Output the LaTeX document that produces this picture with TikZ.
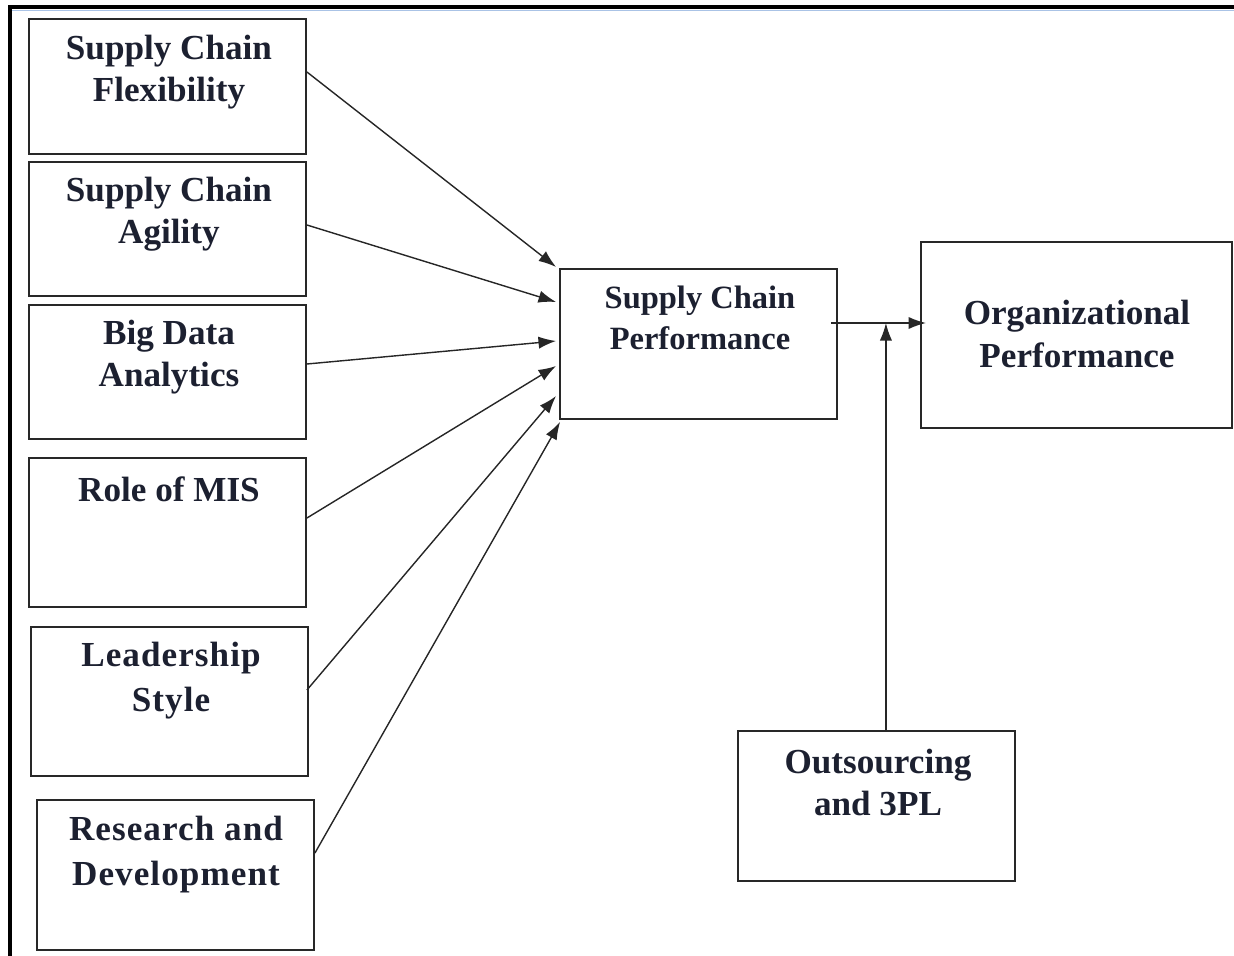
\documentclass[tikz,border=0pt]{standalone}
\usepackage{fontspec}
\setmainfont{Liberation Serif}
\usetikzlibrary{arrows.meta, positioning, calc}
\definecolor{framegray}{RGB}{40,40,40}
\definecolor{textnavy}{RGB}{28,32,48}
\definecolor{rulesky}{RGB}{170,195,230}

\begin{document}
\begin{tikzpicture}[x=0.02cm, y=-0.02cm,
    box/.style={draw=framegray, line width=1.1pt, minimum width=5.54cm, inner sep=0pt},
    caption/.style={text=textnavy, font=\fontsize{20}{24}\selectfont\bfseries, align=center},
    spaced/.style={font=\fontsize{20}{26}\selectfont\bfseries\addfontfeature{LetterSpace=3}},
    link/.style={->, line width=0.8pt, draw=black!85},
    >={Latex[length=10pt,width=7pt]}]
    \useasboundingbox (0,0) rectangle (1234,956);
    % Cornice della pagina
    \draw[rulesky, line width=1pt] (10,10.5) -- (1234,10.5);
    \draw[line width=2.4pt] (8,7) -- (1234,7);
    \draw[line width=2.4pt] (10,6) -- (10,956);
    % Fattori a sinistra
    \node[box, minimum height=2.7cm] (scf) at (167.5,86.5) {};
    \node[caption] (scf-txt) at (169,72) {Supply Chain\\Flexibility};
    \node[box, minimum height=2.68cm] (sca) at (167.5,229) {};
    \node[caption] (sca-txt) at (169,214.5) {Supply Chain\\Agility};
    \node[box, minimum height=2.68cm] (bda) at (167.5,372) {};
    \node[caption] (bda-txt) at (169,357.5) {Big Data\\Analytics};
    \node[box, minimum height=2.98cm] (mis) at (167.5,532.5) {};
    \node[caption] (mis-txt) at (169,489) {Role of MIS};
    \node[box, minimum height=2.98cm] (ls) at (169.5,701.5) {};
    \node[caption, spaced] (ls-txt) at (171,680.5) {Leadership\\Style};
    \node[box, minimum height=3cm] (rd) at (175.5,875) {};
    \node[caption, spaced] (rd-txt) at (176,854.5) {Research and\\Development};
    % Supply chain performance
    \node[box, minimum height=3cm] (scp) at (698.5,344) {};
    \node[caption, font=\fontsize{18.5}{23}\selectfont\bfseries] (scp-txt) at (700,318) {Supply Chain\\Performance};
    % Organizational performance
    \node[box, minimum width=6.22cm, minimum height=3.72cm] (op) at (1076.5,335) {};
    \node[caption] (op-txt) at (1077,334) {Organizational\\Performance};
    % Outsourcing
    \node[box, minimum height=3cm] (out) at (876.5,806) {};
    \node[caption] (out-txt) at (878,782.5) {Outsourcing\\and 3PL};
    % Frecce verso SCP
    \draw[link] ($(scf.east)+(0,-14.5)$) -- ($(scp.west)+(-3,-77)$);
    \draw[link] ($(sca.east)+(0,-4)$) -- ($(scp.west)+(-3,-42)$);
    \draw[link] ($(bda.east)+(0,-8)$) -- ($(scp.west)+(-3,-3)$);
    \draw[link] ($(mis.east)+(0,-14.5)$) -- ($(scp.west)+(-3,22)$);
    \draw[link] ($(ls.east)+(-2,-11.5)$) -- ($(scp.west)+(-3,52)$);
    \draw[link] ($(rd.east)+(0,-22)$) -- ($(scp.west)+(1,78)$);
    % SCP verso OP, con moderatore
    \coordinate (join) at ($(scp.east)+(48,-21)$);
    \draw[link] ($(scp.east)+(-7,-21)$) -- ($(op.west)+(6,-12)$);
    \draw[link] (join |- out.north) -- (join);
\end{tikzpicture}
\end{document}
